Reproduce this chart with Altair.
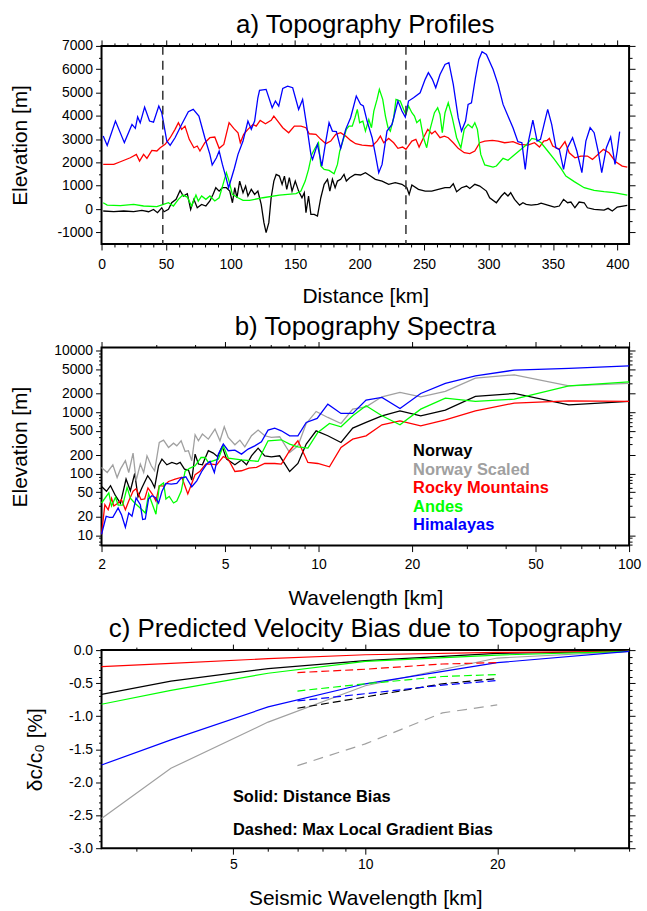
import altair as alt
import pandas as pd

FONT = "Liberation Sans"

REGIONS = ["Norway", "Norway Scaled", "Rocky Mountains", "Andes", "Himalayas"]
COLORS = ["#000000", "#a0a0a0", "#ff0000", "#00ff00", "#0000ff"]

# ---------------- a) Topography profiles: distance [km], elevation [m] ----------------
norway_km = [1.3, 9.5, 17.2, 24.9, 31.3, 36.5, 40.3, 43.4, 46.7, 48.5, 51.9, 54.4, 57.8, 60.9, 63.4,
             66.5, 69.1, 71.6, 74.2, 77.6, 80.9, 84.0, 86.5, 88.6, 91.2, 93.7, 96.8, 99.4, 101.5, 103.3,
             105.0, 107.1, 109.7, 111.7, 113.5, 116.1, 118.7, 121.2, 123.8, 125.9, 127.6, 129.7, 131.5,
             133.6, 135.4, 137.9, 140.0, 141.8, 143.6, 145.6, 147.7, 150.2, 152.8, 155.4, 157.2, 158.5,
             160.5, 162.3, 164.9, 167.4, 170.0, 172.6, 175.2, 177.0, 179.0, 181.1, 182.9, 185.4, 188.0,
             189.8, 192.4, 196.5, 200.8, 204.6, 208.5, 212.3, 217.5, 222.6, 227.7, 232.9, 236.7, 238.5,
             240.6, 245.7, 250.9, 256.0, 261.1, 266.3, 270.1, 272.7, 275.3, 279.1, 283.0, 285.5, 289.4,
             293.2, 298.4, 300.9, 306.1, 310.0, 312.5, 315.1, 317.2, 320.2, 324.1, 326.7, 329.2, 333.1,
             338.2, 340.8, 345.9, 351.1, 354.9, 358.2, 361.3, 363.9, 367.0, 370.3, 374.2, 376.7, 381.9,
             389.6, 392.7, 396.0, 399.8, 407.6]
norway_elev = [-85, -115, -85, -115, -55, -115, -15, -155, 55, -115, -15, 270, 415, 800, 560,
               660, -15, 415, 55, 200, 130, 345, 630, 915, 770, 915, 915, 770, 270, 915,
               485, 1200, 700, 985, 560, 845, 630, 770, 200, -585, -1015, -585, 485,
               1200, 1485, 1415, 1060, 1415, 845, 1345, 770, 1200, 770, 485, 700, -155,
               560, -230, -230, -300, 485, 1060, 1275, 770, 1275, 915, 1200, 1275, 1485,
               1200, 1345, 1485, 1460, 1560, 1415, 1275, 1200, 1060, 1130, 1060, 915, 630,
               1030, 845, 770, 770, 845, 915, 915, 1085, 745, 915, 985, 885, 1060,
               985, 770, 485, 270, 560, 700, 560, 700, 415, 170, 270, 200, 170,
               200, 255, 170, 85, 130, 415, 270, 300, 55, 300, 270, 55, -15,
               -45, 30, -85, 85, 155]

rocky_km = [1.3, 9.5, 14.6, 22.3, 27.0, 29.5, 32.6, 35.2, 39.0, 42.9, 45.5, 49.3, 53.2, 57.0, 59.6,
            62.1, 64.7, 68.0, 71.6, 74.2, 76.3, 80.1, 84.0, 87.8, 91.2, 94.8, 98.9, 102.5, 105.8,
            107.6, 110.2, 113.5, 117.4, 119.9, 123.0, 127.1, 131.5, 133.6, 136.6, 140.5, 145.1, 149.5,
            154.6, 158.5, 161.0, 166.2, 170.0, 173.9, 177.7, 181.6, 185.4, 189.3, 193.1, 197.0, 202.0,
            209.8, 213.6, 216.2, 218.8, 222.6, 226.5, 229.8, 233.4, 236.0, 240.6, 243.7, 246.2, 249.6,
            252.9, 256.0, 258.6, 262.4, 265.8, 268.8, 272.7, 276.5, 281.2, 285.5, 289.4, 293.2, 297.1,
            303.0, 307.4, 312.5, 319.0, 324.1, 330.5, 335.7, 339.5, 342.8, 345.4, 347.2, 349.8, 354.9,
            359.3, 362.6, 367.0, 371.6, 376.7, 380.6, 384.4, 389.1, 393.4, 398.6, 403.7, 407.6]
rocky_elev = [1915, 1915, 2030, 2200, 2345, 2060, 2345, 2175, 2515, 2490, 2630, 2775, 3060, 3420, 3705,
              3420, 3560, 2990, 2630, 2705, 2490, 2845, 3060, 3090, 2605, 2775, 3705, 3460, 3275,
              2845, 3205, 3420, 3630, 3560, 3805, 3660, 3805, 3990, 3775, 3490, 3275, 3560,
              3560, 3490, 3230, 3205, 2990, 2805, 2915, 3205, 3275, 3130, 2945, 2805, 2745,
              2705, 2915, 3130, 2845, 3030, 2845, 2605, 2660, 2560, 2915, 2990, 2660, 3060,
              3420, 3230, 3345, 3060, 3130, 3060, 2845, 2605, 2415, 2375, 2490, 2845, 2915,
              2945, 2915, 2845, 2890, 2775, 2745, 2845, 2660, 2915, 2945, 3030, 2705, 2560,
              2890, 2415, 2200, 2275, 2275, 2130, 2315, 2560, 2415, 2030, 1845, 1800]

andes_km = [1.3, 4.4, 14.6, 24.9, 32.6, 42.9, 48.0, 51.9, 55.7, 59.6, 62.9, 66.5, 69.8, 73.2, 75.0,
            77.6, 80.9, 84.0, 87.8, 91.2, 94.2, 96.8, 98.9, 101.4, 105.8, 109.7, 114.8, 125.1, 137.9,
            150.8, 154.6, 157.9, 160.5, 163.0, 165.7, 168.2, 170.0, 172.6, 176.4, 180.3, 182.9, 184.7,
            186.7, 189.8, 191.8, 194.4, 196.5, 198.3, 200.1, 202.6, 204.6, 207.2, 209.3, 211.1, 213.6,
            215.4, 218.0, 220.1, 222.1, 223.9, 226.5, 228.3, 231.6, 234.2, 236.0, 238.0, 240.6, 242.6,
            244.4, 247.0, 249.6, 252.1, 254.7, 258.1, 260.6, 262.4, 264.2, 266.3, 268.8, 271.9, 275.3,
            278.6, 281.2, 284.2, 287.3, 289.4, 291.4, 294.0, 297.1, 303.5, 306.1, 311.3, 315.1, 319.0,
            324.1, 329.2, 333.6, 336.9, 340.8, 345.9, 351.1, 356.2, 360.0, 366.5, 374.2, 381.9, 389.6,
            397.3, 407.6]
andes_elev = [270, 170, 145, 200, 130, 100, 200, 270, 130, 415, 600, 515, 130, 600, 345,
              560, 415, 560, 345, 485, 1060, 1560, 1200, 630, 485, 370, 370, 485, 600,
              660, 770, 1200, 1700, 2345, 2630, 2845, 1845, 1700, 1660, 1515, 1915, 2490,
              2845, 3420, 3560, 3560, 3920, 4275, 3705, 3775, 3345, 3845, 3490, 4205, 4705,
              5135, 4705, 3990, 3490, 3345, 3920, 4705, 4635, 4275, 4060, 4420, 4135, 3990,
              3705, 3845, 3060, 2630, 3420, 4135, 4345, 4060, 3275, 4135, 4560, 3920, 3060,
              2630, 3420, 3630, 3490, 3705, 3420, 2345, 1890, 1800, 1845, 2175, 2090, 2275,
              2515, 2745, 3030, 2990, 2845, 2490, 2130, 1745, 1415, 1175, 915, 800, 745,
              700, 600]

himalaya_km = [1.3, 4.4, 10.8, 17.7, 23.6, 26.2, 28.0, 30.0, 33.4, 37.2, 40.3, 44.4, 46.7, 50.6, 53.2,
               57.0, 62.1, 67.3, 71.1, 75.5, 80.1, 84.0, 85.8, 89.1, 91.2, 93.7, 96.5, 98.5, 103.0,
               105.8, 109.7, 113.5, 116.1, 118.7, 121.2, 122.5, 127.6, 132.3, 134.8, 137.4, 140.5, 144.3,
               148.2, 152.8, 155.9, 159.7, 162.3, 163.6, 167.4, 170.8, 173.9, 176.4, 179.0, 182.1, 185.4,
               189.3, 193.1, 197.5, 200.8, 203.0, 205.9, 209.8, 212.3, 214.9, 217.5, 221.3, 225.2, 229.8,
               232.9, 235.5, 238.0, 241.9, 247.0, 250.9, 253.4, 256.5, 259.1, 262.4, 266.3, 269.3, 272.7,
               276.5, 279.1, 282.2, 284.2, 286.8, 289.9, 292.5, 295.0, 298.4, 303.6, 307.4, 311.3, 315.1,
               319.0, 322.8, 325.9, 328.5, 331.0, 334.4, 337.7, 340.3, 343.4, 345.9, 349.0, 352.3, 354.9,
               358.2, 361.3, 365.2, 368.5, 372.4, 375.5, 378.8, 381.9, 385.0, 387.8, 391.4, 394.7, 398.1,
               399.8, 401.7]
himalaya_elev = [3130, 2730, 3775, 2850, 3630, 3460, 3950, 3700, 4375, 3775, 3730, 4420, 4130, 2920, 2730,
                 3060, 3630, 4175, 4275, 3990, 3060, 2345, 1890, 2200, 2490, 1915, 1350, 915, 1750,
                 2345, 2920, 3775, 3420, 3775, 4775, 5090, 5135, 4350, 4635, 4420, 5175, 5275,
                 5205, 4275, 4705, 3345, 2345, 2130, 2775, 1845, 2915, 3705, 3345, 3320, 2605,
                 3420, 3920, 4850, 4490, 4420, 3775, 3060, 2345, 1560, 1915, 3345, 3630, 4635,
                 4205, 3945, 4635, 4775, 4990, 5565, 5850, 5565, 5205, 5775, 6205, 6280, 5350,
                 3920, 3345, 3775, 4490, 4560, 5635, 6420, 6750, 6635, 5990, 5350, 4490, 3990,
                 3490, 2890, 2845, 1700, 2915, 3820, 2915, 2990, 3705, 4275, 3630, 2630, 2560,
                 1700, 2630, 3060, 2490, 1560, 2915, 3490, 3275, 2490, 1560, 2630, 3090, 1915,
                 2490, 3320]

profile_cuts_km = [47.5, 236.0]

# ---------------- b) Topography spectra: wavelength [km], elevation [m] ----------------
norway_wl = [2.0, 2.075, 2.138, 2.218, 2.301, 2.399, 2.477, 2.558, 2.621, 2.701, 2.816, 2.892, 2.965,
             3.053, 3.13, 3.247, 3.369, 3.495, 3.583, 3.70, 3.81, 3.905, 4.003, 4.102, 4.225, 4.416,
             4.581, 4.73, 4.897, 5.056, 5.377, 5.647, 5.861, 6.08, 6.387, 6.709, 7.047, 7.494, 8.07,
             8.58, 9.125, 9.822, 10.71, 11.81, 12.88, 14.22, 16.0, 18.29, 21.33, 25.6, 32.0, 42.67,
             64.0, 100.0]
norway_amp = [62, 52, 64, 44, 33, 82, 53, 101, 42, 60, 93, 77, 60,
              135, 173, 140, 153, 144, 153, 119, 115, 79, 209, 144, 140, 237,
              217, 189, 275, 173, 140, 167, 140, 196, 261, 196, 189, 196, 109,
              147, 304, 500, 415, 323, 553, 683, 877, 1057, 877, 1084, 1809, 2024,
              1324, 1500]

scaled_wl = [2.0, 2.086, 2.175, 2.245, 2.301, 2.387, 2.447, 2.527, 2.584, 2.667, 2.734, 2.802, 2.892,
             2.965, 3.069, 3.168, 3.287, 3.411, 3.495, 3.609, 3.717, 3.81, 3.905, 4.003, 4.102, 4.225,
             4.416, 4.639, 4.813, 4.969, 5.118, 5.377, 5.579, 5.788, 6.08, 6.387, 6.709, 7.047, 7.494,
             8.07, 8.58, 9.125, 9.822, 10.71, 11.81, 12.88, 14.22, 16.0, 18.29, 21.33, 25.6, 32.0,
             42.67, 64.0, 100.0]
scaled_amp = [127, 105, 140, 87, 119, 163, 105, 217, 77, 144, 105, 196, 135,
              112, 323, 353, 268, 315, 285, 344, 231, 237, 163, 431, 344, 442,
              366, 533, 344, 581, 390, 296, 353, 275, 415, 513, 415, 390, 400,
              222, 285, 658, 1032, 824, 658, 1126, 1229, 1786, 2101, 1786, 2182, 3594,
              4071, 2697, 2943]

rocky_wl = [2.0, 2.05, 2.101, 2.154, 2.191, 2.262, 2.318, 2.387, 2.447, 2.527, 2.584, 2.68, 2.754,
            2.822, 2.921, 2.994, 3.069, 3.168, 3.287, 3.452, 3.628, 3.792, 3.924, 4.003, 4.152, 4.331,
            4.527, 4.697, 4.933, 5.118, 5.377, 5.647, 5.963, 6.309, 6.709, 7.223, 7.588, 8.07, 8.58,
            9.238, 9.945, 10.84, 11.81, 12.88, 14.22, 16.0, 18.29, 21.33, 25.6, 32.0, 42.67, 64.0,
            100.0]
rocky_amp = [10.4, 31.5, 26, 40, 30, 33.5, 38, 26, 36, 52, 57, 38, 39,
             59, 46, 36, 64, 63, 75, 82, 88, 47, 74, 97, 110, 144,
             144, 140, 191, 173, 109, 112, 124, 127, 147, 147, 144, 237, 344,
             153, 147, 130, 268, 366, 415, 626, 727, 603, 755, 1057, 1410, 1538,
             1500]

andes_wl = [2.0, 2.111, 2.154, 2.218, 2.262, 2.34, 2.417, 2.477, 2.558, 2.701, 2.767, 2.836, 2.906,
            2.994, 3.069, 3.168, 3.224, 3.304, 3.411, 3.495, 3.609, 3.717, 3.857, 4.003, 4.183, 4.309,
            4.416, 4.754, 4.933, 5.118, 5.647, 6.387, 6.627, 6.876, 7.586, 8.07, 8.58, 9.238, 9.945,
            10.84, 11.81, 12.88, 14.22, 16.0, 18.29, 21.33, 25.6, 32.0, 42.67, 64.0, 100.0]
andes_amp = [33.5, 49, 30, 41.5, 31, 31, 60, 40, 33.5, 26, 23, 47, 33.5,
             22, 63, 71, 39, 43, 33.5, 36, 52, 110, 124, 135, 184, 184,
             153, 173, 285, 180, 169, 159, 237, 344, 357, 304, 275, 261, 470,
             658, 581, 877, 1276, 877, 626, 1125, 1699, 1500, 1637, 2697, 3133]

himalaya_wl = [2.0, 2.07, 2.122, 2.175, 2.262, 2.318, 2.387, 2.447, 2.507, 2.584, 2.667, 2.713, 2.767,
               2.836, 2.906, 2.979, 3.053, 3.13, 3.224, 3.353, 3.495, 3.609, 3.736, 3.905, 4.053, 4.204,
               4.362, 4.472, 4.617, 4.755, 4.933, 5.118, 5.377, 5.647, 5.932, 6.232, 6.546, 6.876, 7.223,
               7.588, 8.07, 8.58, 9.125, 9.895, 10.71, 11.81, 12.88, 14.22, 16.0, 18.29, 21.33, 25.6,
               32.0, 42.67, 64.0, 100.0]
himalaya_amp = [10.4, 20.4, 19.6, 19.6, 27.8, 21.7, 13.5, 23.1, 20.4, 40.4, 31.5, 18, 18.4,
                39.4, 43.9, 41.2, 33.3, 51.6, 69.6, 67.9, 69.6, 85, 89.4, 61.5, 76.9, 109,
                144, 159, 105, 209, 304, 237, 243, 209, 252, 285, 331, 513, 553,
                500, 415, 415, 683, 794, 1358, 957, 957, 1577, 1743, 1154, 2024, 2943,
                3922, 4849, 5161, 5703]

# ---------------- c) Predicted velocity bias [%] vs seismic wavelength [km] ----------------
distance_wl = [2.5, 3.6, 6, 10, 20, 40]
distance_bias = {
    "Norway": [-0.67, -0.47, -0.28, -0.16, -0.05, -0.02],
    "Norway Scaled": [-2.55, -1.79, -1.09, -0.54, -0.12, -0.02],
    "Rocky Mountains": [-0.25, -0.20, -0.13, -0.07, -0.035, -0.02],
    "Andes": [-0.82, -0.61, -0.35, -0.17, -0.075, -0.02],
    "Himalayas": [-1.74, -1.36, -0.86, -0.51, -0.19, -0.02],
}
gradient_wl = [7, 10, 15, 20]
gradient_bias = {
    "Norway": [-0.88, -0.71, -0.51, -0.43],
    "Norway Scaled": [-1.75, -1.42, -0.95, -0.83],
    "Rocky Mountains": [-0.34, -0.29, -0.21, -0.19],
    "Andes": [-0.62, -0.51, -0.40, -0.37],
    "Himalayas": [-0.77, -0.66, -0.53, -0.46],
}

# ---------------- axis tick positions ----------------
a_x_major = [0, 50, 100, 150, 200, 250, 300, 350, 400]
a_x_minor = [v for v in range(10, 410, 10) if v % 50]
a_y_major = [-1000, 0, 1000, 2000, 3000, 4000, 5000, 6000, 7000]
a_y_minor = [v for v in range(-1000, 7000, 500) if v % 1000]

b_x_major = [2, 5, 10, 20, 50, 100]
b_x_minor = [3, 4, 6, 7, 8, 9, 30, 40, 60, 70, 80, 90]
b_y_major = [10, 20, 50, 100, 200, 500, 1000, 2000, 5000, 10000]
b_y_minor = [m * d for d in (1, 10, 100, 1000) for m in (3, 4, 6, 7, 8, 9)] + [7, 8, 9]

c_x_major = [5, 10, 20]
c_x_minor = [3, 4, 6, 7, 8, 9, 30, 40]
c_y_major = [-3.0, -2.5, -2.0, -1.5, -1.0, -0.5, 0.0]
c_y_minor = [round(-3 + 0.1 * i, 1) for i in range(31) if i % 5]

PANEL_W, PANEL_H = 530, 199
color_scale = alt.Scale(domain=REGIONS, range=COLORS)
NEG_D = "datum.value < 0 ? '-' + format(-datum.value, 'd') : format(datum.value, 'd')"
NEG_1F = "datum.value < 0 ? '-' + format(-datum.value, '.1f') : format(datum.value, '.1f')"


def long_table(pairs, xname, yname):
    rows = []
    for name, xs, ys in pairs:
        for xv, yv in zip(xs, ys):
            rows.append({"region": name, xname: xv, yname: yv})
    return pd.DataFrame(rows)


def frame_ticks(df, xf, yf, xs, ys, x_major, x_minor, y_major, y_minor):
    """Invisible layers that only carry tick-only axes on all four sides."""
    ghost = alt.Chart(df).mark_point(opacity=0, size=1)

    def ax(orient, values, size):
        return alt.Axis(orient=orient, values=values, labels=False, title=None, domain=False,
                        grid=False, tickSize=size, tickColor="black", tickWidth=1)

    return [
        ghost.encode(x=alt.X(xf, scale=xs, axis=ax("top", x_major, 6)),
                     y=alt.Y(yf, scale=ys, axis=ax("right", y_major, 6))),
        ghost.encode(x=alt.X(xf, scale=xs, axis=ax("bottom", x_minor, 3)),
                     y=alt.Y(yf, scale=ys, axis=ax("left", y_minor, 3))),
        ghost.encode(x=alt.X(xf, scale=xs, axis=ax("top", x_minor, 3)),
                     y=alt.Y(yf, scale=ys, axis=ax("right", y_minor, 3))),
    ]


def main_axis(orient, values, title, title_pos, label_pad, fmt=None, expr=None):
    kw = dict(orient=orient, values=values, title=title, domain=False, grid=False, tickSize=6,
              tickColor="black", labelPadding=label_pad, labelFlush=False,
              titleBaseline="middle", titleAlign="center")
    if orient == "bottom":
        kw.update(titleX=PANEL_W / 2, titleY=title_pos)
    else:
        kw.update(titleX=title_pos, titleY=PANEL_H / 2, titleAngle=-90)
    if fmt:
        kw["format"] = fmt
    if expr:
        kw["labelExpr"] = expr
    return alt.Axis(**kw)


def panel_title(text):
    return alt.TitleParams(text, fontSize=26, font=FONT, fontWeight="normal", color="black",
                           anchor="middle", offset=1)


# ---------------- panel a ----------------
prof = long_table([
    ("Norway", norway_km, norway_elev),
    ("Rocky Mountains", rocky_km, rocky_elev),
    ("Andes", andes_km, andes_elev),
    ("Himalayas", himalaya_km, himalaya_elev),
], "km", "elev")
ax_a = alt.Scale(domain=[0, 409], nice=False, zero=False)
ay_a = alt.Scale(domain=[-1500, 7000], nice=False, zero=False)

lines_a = alt.Chart(prof).mark_line(strokeWidth=1.3, interpolate="linear").encode(
    x=alt.X("km:Q", scale=ax_a, axis=main_axis("bottom", a_x_major, "Distance [km]", 53, 8, fmt="d")),
    y=alt.Y("elev:Q", scale=ay_a, axis=main_axis("left", a_y_major, "Elevation [m]", -81, 3, expr=NEG_D)),
    color=alt.Color("region:N", scale=color_scale, legend=None),
    order=alt.Order("km:Q"),
)
cuts = alt.Chart(pd.DataFrame({"km": profile_cuts_km})).mark_rule(
    color="#333333", strokeWidth=1.5, strokeDash=[9, 6]
).encode(x=alt.X("km:Q", scale=ax_a, axis=None))

panel_a = alt.layer(
    lines_a, cuts, *frame_ticks(prof, "km:Q", "elev:Q", ax_a, ay_a, a_x_major, a_x_minor, a_y_major, a_y_minor)
).resolve_axis(x="independent", y="independent").properties(
    width=PANEL_W, height=PANEL_H, title=panel_title("a) Topography Profiles"))

# ---------------- panel b ----------------
spec = long_table([
    ("Norway", norway_wl, norway_amp),
    ("Norway Scaled", scaled_wl, scaled_amp),
    ("Rocky Mountains", rocky_wl, rocky_amp),
    ("Andes", andes_wl, andes_amp),
    ("Himalayas", himalaya_wl, himalaya_amp),
], "wl", "amp")
bx = alt.Scale(type="log", domain=[2, 100], nice=False)
by = alt.Scale(type="log", domain=[6.8, 11300], nice=False)

lines_b = alt.Chart(spec).mark_line(strokeWidth=1.3).encode(
    x=alt.X("wl:Q", scale=bx, axis=main_axis("bottom", b_x_major, "Wavelength [km]", 53, 6, fmt="d")),
    y=alt.Y("amp:Q", scale=by, axis=main_axis("left", b_y_major, "Elevation [m]", -81, 3, fmt="d")),
    color=alt.Color("region:N", scale=color_scale, legend=None),
    order=alt.Order("wl:Q"),
)
legend_b = []
for i, (name, col) in enumerate(zip(REGIONS, COLORS)):
    legend_b.append(
        alt.Chart(pd.DataFrame({"label": [name]})).mark_text(
            font=FONT, fontSize=16.5, fontWeight="bold", align="left", baseline="middle", color=col
        ).encode(text="label:N", x=alt.value(313), y=alt.value(104 + 18.6 * i))
    )

panel_b = alt.layer(
    lines_b, *legend_b, *frame_ticks(spec, "wl:Q", "amp:Q", bx, by, b_x_major, b_x_minor, b_y_major, b_y_minor)
).resolve_axis(x="independent", y="independent").properties(
    width=PANEL_W, height=PANEL_H, title=panel_title("b) Topography Spectra"))

# ---------------- panel c ----------------
solid = long_table([(n, distance_wl, distance_bias[n]) for n in REGIONS], "wl", "bias")
dashed = long_table([(n, gradient_wl, gradient_bias[n]) for n in REGIONS], "wl", "bias")
cx = alt.Scale(type="log", domain=[2.5, 40], nice=False)
cy = alt.Scale(domain=[-3, 0], nice=False, zero=False)

lines_c = alt.Chart(solid).mark_line(strokeWidth=1.2).encode(
    x=alt.X("wl:Q", scale=cx, axis=main_axis("bottom", c_x_major, "Seismic Wavelength [km]", 51, 3, fmt="d")),
    y=alt.Y("bias:Q", scale=cy, axis=main_axis("left", c_y_major, "δc/c₀ [%]", -66, 3, expr=NEG_1F)),
    color=alt.Color("region:N", scale=color_scale, legend=None),
    order=alt.Order("wl:Q"),
)
dash_main = alt.Chart(dashed[dashed.region != "Norway Scaled"]).mark_line(
    strokeWidth=1.2, strokeDash=[8, 4]).encode(
    x=alt.X("wl:Q", scale=cx, axis=None), y=alt.Y("bias:Q", scale=cy, axis=None),
    color=alt.Color("region:N", scale=color_scale, legend=None), order=alt.Order("wl:Q"))
dash_scaled = alt.Chart(dashed[dashed.region == "Norway Scaled"]).mark_line(
    strokeWidth=1.2, strokeDash=[10, 7]).encode(
    x=alt.X("wl:Q", scale=cx, axis=None), y=alt.Y("bias:Q", scale=cy, axis=None),
    color=alt.Color("region:N", scale=color_scale, legend=None), order=alt.Order("wl:Q"))

notes = [
    alt.Chart(pd.DataFrame({"t": [txt]})).mark_text(
        font=FONT, fontSize=16.5, fontWeight="bold", align="left", baseline="middle", color="black"
    ).encode(text="t:N", x=alt.value(132), y=alt.value(yy))
    for txt, yy in [("Solid: Distance Bias", 148), ("Dashed: Max Local Gradient Bias", 181)]
]

panel_c = alt.layer(
    lines_c, dash_main, dash_scaled, *notes,
    *frame_ticks(solid, "wl:Q", "bias:Q", cx, cy, c_x_major, c_x_minor, c_y_major, c_y_minor)
).resolve_axis(x="independent", y="independent").properties(
    width=PANEL_W, height=PANEL_H, title=panel_title("c) Predicted Velocity Bias due to Topography"))

upper = alt.vconcat(panel_a, panel_b, spacing=5)
chart = alt.vconcat(upper, panel_c, spacing=6).properties(
    padding={"left": 8, "top": 9, "right": 5, "bottom": 5}, background="white"
).configure_view(stroke="black", strokeWidth=2).configure_axis(
    labelFont=FONT, labelFontSize=14, labelColor="black", titleFont=FONT, titleFontSize=21,
    titleFontWeight="normal", titleColor="black"
)

chart.save("out.html", embed_options={"renderer": "svg", "actions": False})
